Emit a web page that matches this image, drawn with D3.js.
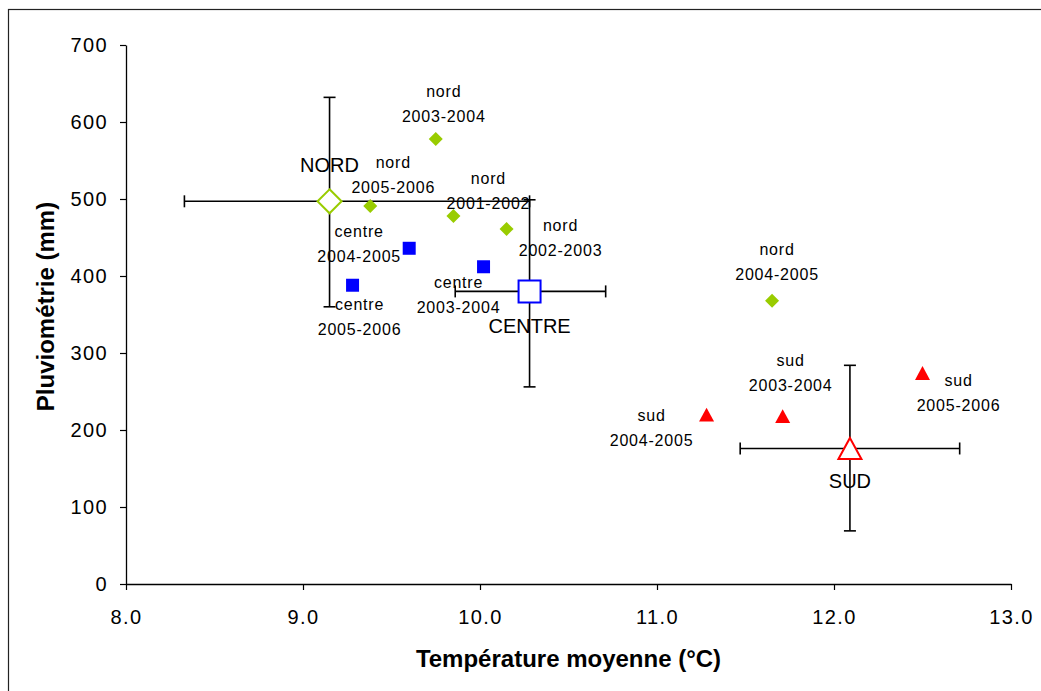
<!DOCTYPE html>
<html>
<head>
<meta charset="utf-8">
<script src="https://cdn.jsdelivr.net/npm/d3@7"></script>
<style>
  body { margin: 0; background: #fff; }
  svg { display: block; font-family: "Liberation Sans", Arial, sans-serif; }
</style>
</head>
<body>
<svg id="chart"></svg>
<script>
// yearly points per zone
const nordYears = ["2001-2002", "2002-2003", "2003-2004", "2004-2005", "2005-2006"];
const nordTemp = [9.85, 10.15, 9.75, 11.65, 9.38];
const nordRain = [478, 461, 578, 368, 491];

const centreYears = ["2003-2004", "2004-2005", "2005-2006"];
const centreTemp = [10.02, 9.60, 9.28];
const centreRain = [412, 436, 388];

const sudYears = ["2003-2004", "2004-2005", "2005-2006"];
const sudTemp = [11.71, 11.28, 12.50];
const sudRain = [218, 220, 274];

// zone means with error bars
const zones = ["NORD", "CENTRE", "SUD"];
const zoneTemp = [9.15, 10.28, 12.09];
const zoneRain = [497, 380, 176];
const zoneTempLow = [8.33, 9.86, 11.47];
const zoneTempHigh = [10.28, 10.71, 12.71];
const zoneRainLow = [360, 256, 69];
const zoneRainHigh = [632, 499, 284];

const xTicks = [8, 9, 10, 11, 12, 13];
const yTicks = [0, 100, 200, 300, 400, 500, 600, 700];

// label placement (pixels from the marker: center x, first baseline)
const nordLabelOffsets = [[35, -32], [54, 2], [8, -42], [5, -46], [23, -38]];
const centreLabelOffsets = [[-25, 21], [-50, -11], [7, 25]];
const sudLabelOffsets = [[8, -50], [-55, 6], [36, 13]];
const zoneLabelOffsets = [-29, 42, 40];

const width = 1041, height = 691;
const pad = { left: 126, right: 1011, top: 45, bottom: 584 };

const svg = d3.select('#chart').attr('width', width).attr('height', height);

// outer frame
svg.append('rect')
  .attr('x', 8.5).attr('y', 9.5)
  .attr('width', 1100).attr('height', 800)
  .attr('fill', 'none').attr('stroke', '#222').attr('stroke-width', 1.2);

const x = d3.scaleLinear().domain([8, 13]).range([pad.left, pad.right]);
const y = d3.scaleLinear().domain([0, 700]).range([pad.bottom, pad.top]);

const xAxis = d3.axisBottom(x).tickValues(xTicks).tickFormat(d3.format('.1f')).tickSize(6).tickPadding(20).tickSizeOuter(0);
const yAxis = d3.axisLeft(y).tickValues(yTicks).tickSize(6).tickPadding(12).tickSizeOuter(0);

const gx = svg.append('g').attr('transform', `translate(0,${pad.bottom})`).call(xAxis);
const gy = svg.append('g').attr('transform', `translate(${pad.left},0)`).call(yAxis);

[gx, gy].forEach(g => {
  g.select('.domain').attr('stroke', '#000').attr('stroke-width', 1.3);
  g.selectAll('.tick line').attr('stroke', '#000').attr('stroke-width', 1.2);
  g.selectAll('.tick text')
    .attr('fill', '#000')
    .style('font-family', '"Liberation Sans", Arial, sans-serif')
    .style('font-size', '20px')
    .style('letter-spacing', '1.4px');
});

// axis titles
svg.append('text')
  .attr('x', (pad.left + pad.right) / 2).attr('y', 667)
  .attr('text-anchor', 'middle')
  .style('font-size', '24px').style('font-weight', 'bold')
  .text('Température moyenne (°C)');

svg.append('text')
  .attr('transform', `translate(54,${(pad.top + pad.bottom) / 2 - 8}) rotate(-90)`)
  .attr('text-anchor', 'middle')
  .style('font-size', '24px').style('font-weight', 'bold')
  .text('Pluviométrie (mm)');

// marker shapes
const rotatedSquare = {
  draw(ctx, size) {
    const r = Math.sqrt(size) / Math.SQRT2;
    ctx.moveTo(0, -r); ctx.lineTo(r, 0); ctx.lineTo(0, r); ctx.lineTo(-r, 0); ctx.closePath();
  }
};
const boxTriangle = {
  draw(ctx, size) {
    const w = Math.sqrt(size), h = w * 0.92;
    ctx.moveTo(0, -h / 2); ctx.lineTo(w / 2, h / 2); ctx.lineTo(-w / 2, h / 2); ctx.closePath();
  }
};

const zoneColors = ['#99CC00', '#0000FF', '#FF0000'];
const zoneShapes = [rotatedSquare, d3.symbolSquare, boxTriangle];
const zoneSizes = [288, 484, 529];

// error bars
const cap = 6;
const bars = svg.append('g').attr('stroke', '#000').attr('stroke-width', 1.6).attr('fill', 'none');
zones.forEach((z, i) => {
  const cx = x(zoneTemp[i]), cy = y(zoneRain[i]);
  const x0 = x(zoneTempLow[i]), x1 = x(zoneTempHigh[i]);
  const y0 = y(zoneRainLow[i]), y1 = y(zoneRainHigh[i]);
  bars.append('line').attr('x1', x0).attr('x2', x1).attr('y1', cy).attr('y2', cy);
  bars.append('line').attr('x1', x0).attr('x2', x0).attr('y1', cy - cap).attr('y2', cy + cap);
  bars.append('line').attr('x1', x1).attr('x2', x1).attr('y1', cy - cap).attr('y2', cy + cap);
  bars.append('line').attr('x1', cx).attr('x2', cx).attr('y1', y0).attr('y2', y1);
  bars.append('line').attr('x1', cx - cap).attr('x2', cx + cap).attr('y1', y0).attr('y2', y0);
  bars.append('line').attr('x1', cx - cap).attr('x2', cx + cap).attr('y1', y1).attr('y2', y1);
});

// zone mean markers (open)
svg.append('g').selectAll('path')
  .data(zones)
  .join('path')
  .attr('transform', (d, i) => `translate(${x(zoneTemp[i])},${y(zoneRain[i])})`)
  .attr('d', (d, i) => d3.symbol().type(zoneShapes[i]).size(zoneSizes[i])())
  .attr('fill', '#fff')
  .attr('stroke', (d, i) => zoneColors[i])
  .attr('stroke-width', 2);

svg.append('g').selectAll('text')
  .data(zones)
  .join('text')
  .attr('x', (d, i) => x(zoneTemp[i]))
  .attr('y', (d, i) => y(zoneRain[i]) + zoneLabelOffsets[i])
  .attr('text-anchor', 'middle')
  .style('font-size', '20px')
  .text(d => d);

// yearly points
const groups = [
  { name: 'nord', years: nordYears, temp: nordTemp, rain: nordRain, offs: nordLabelOffsets, shape: rotatedSquare, size: 98, color: zoneColors[0] },
  { name: 'centre', years: centreYears, temp: centreTemp, rain: centreRain, offs: centreLabelOffsets, shape: d3.symbolSquare, size: 169, color: zoneColors[1] },
  { name: 'sud', years: sudYears, temp: sudTemp, rain: sudRain, offs: sudLabelOffsets, shape: boxTriangle, size: 225, color: zoneColors[2] }
];

groups.forEach(gr => {
  const g = svg.append('g');
  g.selectAll('path')
    .data(gr.years)
    .join('path')
    .attr('transform', (d, i) => `translate(${x(gr.temp[i])},${y(gr.rain[i])})`)
    .attr('d', d3.symbol().type(gr.shape).size(gr.size)())
    .attr('fill', gr.color);

  const labels = g.selectAll('text')
    .data(gr.years)
    .join('text')
    .attr('text-anchor', 'middle')
    .style('font-size', '16px')
    .style('letter-spacing', '0.8px');
  labels.append('tspan')
    .attr('x', (d, i) => x(gr.temp[i]) + gr.offs[i][0])
    .attr('y', (d, i) => y(gr.rain[i]) + gr.offs[i][1])
    .text(gr.name);
  labels.append('tspan')
    .attr('x', (d, i) => x(gr.temp[i]) + gr.offs[i][0])
    .attr('y', (d, i) => y(gr.rain[i]) + gr.offs[i][1] + 25)
    .text(d => d);
});
</script>
</body>
</html>
